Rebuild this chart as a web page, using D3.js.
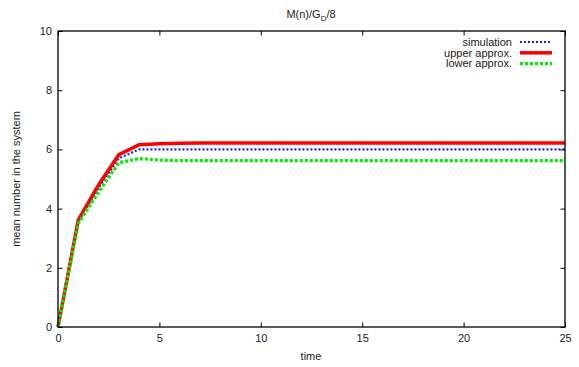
<!DOCTYPE html>
<html>
<head>
<meta charset="utf-8">
<script src="https://cdn.jsdelivr.net/npm/d3@7"></script>
<style>
  body { margin: 0; background: #fff; }
  text { font-family: "Liberation Sans", Arial, sans-serif; font-size: 11px; fill: #222; }
</style>
</head>
<body>
<svg id="chart" width="579" height="367"></svg>
<script>
// time steps and the three series
const times = [0, 1, 2, 3, 4, 5, 6, 7, 8, 9, 10, 11, 12, 13, 14, 15, 16, 17, 18, 19, 20, 21, 22, 23, 24, 25];
const simulation = [0, 3.55, 4.7, 5.7, 6.0, 6.0, 6.0, 6.0, 6.0, 6.0, 6.0, 6.0, 6.0, 6.0, 6.0, 6.0, 6.0, 6.0, 6.0, 6.0, 6.0, 6.0, 6.0, 6.0, 6.0, 6.0];
const upperApprox = [0, 3.62, 4.8, 5.82, 6.16, 6.19, 6.21, 6.22, 6.22, 6.22, 6.22, 6.22, 6.22, 6.22, 6.22, 6.22, 6.22, 6.22, 6.22, 6.22, 6.22, 6.22, 6.22, 6.22, 6.22, 6.22];
const lowerApprox = [0, 3.5, 4.55, 5.55, 5.69, 5.64, 5.62, 5.62, 5.62, 5.62, 5.62, 5.62, 5.62, 5.62, 5.62, 5.62, 5.62, 5.62, 5.62, 5.62, 5.62, 5.62, 5.62, 5.62, 5.62, 5.62];
const xTicks = [0, 5, 10, 15, 20, 25];
const yTicks = [0, 2, 4, 6, 8, 10];

const series = [
  { name: 'simulation', values: simulation, color: '#1f1fff', width: 2.2, dash: '2,2' },
  { name: 'upper approx.', values: upperApprox, color: '#ff0000', width: 3.5, dash: null },
  { name: 'lower approx.', values: lowerApprox, color: '#00ee00', width: 3.2, dash: '3,2' },
];

const margin = { top: 31, right: 14, bottom: 40, left: 58 };
const width = 579, height = 367;
const innerW = width - margin.left - margin.right;
const innerH = height - margin.top - margin.bottom;

const svg = d3.select('#chart');
const g = svg.append('g').attr('transform', `translate(${margin.left},${margin.top})`);

const x = d3.scaleLinear().domain([0, 25]).range([0, innerW]);
const y = d3.scaleLinear().domain([0, 10]).range([innerH, 0]);

// axes with inward ticks, mirrored on top/right like gnuplot
const tick = 4.5;
const styleAxis = sel => {
  sel.select('.domain').remove();
  sel.selectAll('line').attr('stroke', '#000').attr('stroke-width', 1);
};
g.append('g').attr('transform', `translate(0,${innerH})`)
  .call(d3.axisBottom(x).tickValues(xTicks).tickSizeInner(-tick).tickSizeOuter(0).tickPadding(8))
  .call(styleAxis)
  .selectAll('text').attr('dy', '0.71em').attr('y', 7);
g.append('g')
  .call(d3.axisTop(x).tickValues(xTicks).tickSizeInner(-tick).tickSizeOuter(0).tickFormat(''))
  .call(styleAxis);
g.append('g')
  .call(d3.axisLeft(y).tickValues(yTicks).tickSizeInner(-tick).tickSizeOuter(0).tickPadding(6))
  .call(styleAxis)
  .selectAll('text').attr('x', -6);
g.append('g').attr('transform', `translate(${innerW},0)`)
  .call(d3.axisRight(y).tickValues(yTicks).tickSizeInner(-tick).tickSizeOuter(0).tickFormat(''))
  .call(styleAxis);

g.selectAll('.tick text').style('font-family', '"Liberation Sans", Arial, sans-serif').style('font-size', '11px').attr('fill', '#222');

// series lines
const line = d3.line().x((d, i) => x(times[i])).y(d => y(d));
g.selectAll('path.series')
  .data(series)
  .enter()
  .append('path')
  .attr('class', 'series')
  .attr('fill', 'none')
  .attr('stroke', d => d.color)
  .attr('stroke-width', d => d.width)
  .attr('stroke-dasharray', d => d.dash)
  .attr('d', d => line(d.values));

// frame
g.append('rect').attr('width', innerW).attr('height', innerH)
  .attr('fill', 'none').attr('stroke', '#000').attr('stroke-width', 1.3);

// legend
const legend = g.append('g').attr('transform', `translate(${innerW - 53},${11})`);
series.forEach((s, i) => {
  const row = legend.append('g').attr('transform', `translate(0,${i * 10.8})`);
  row.append('text').attr('x', 0).attr('dy', '0.35em').attr('text-anchor', 'end').text(s.name);
  row.append('line').attr('x1', 8).attr('x2', 40)
    .attr('stroke', s.color).attr('stroke-width', s.width).attr('stroke-dasharray', s.dash);
});

// title and axis labels
const title = svg.append('text').attr('x', 311).attr('y', 18).attr('text-anchor', 'middle');
title.append('tspan').text('M(n)/G');
title.append('tspan').attr('dy', 3).style('font-size', '8px').text('D');
title.append('tspan').attr('dy', -3).text('/8');

svg.append('text').attr('x', 311).attr('y', 360).attr('text-anchor', 'middle').text('time');
svg.append('text').attr('transform', 'translate(20,179) rotate(-90)')
  .attr('text-anchor', 'middle').text('mean number in the system');
</script>
</body>
</html>
